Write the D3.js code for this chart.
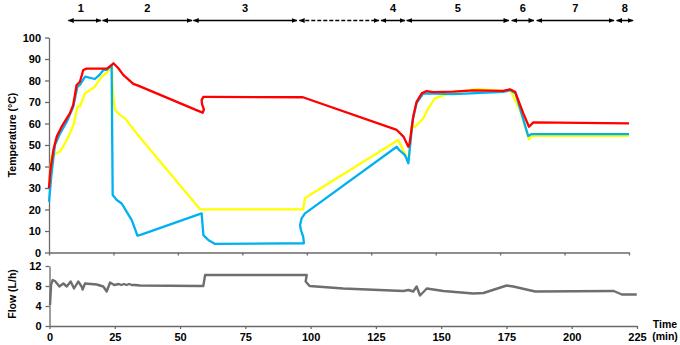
<!DOCTYPE html>
<html>
<head>
<meta charset="utf-8">
<script src="https://cdn.jsdelivr.net/npm/d3@7"></script>
<style>
  body { margin: 0; background: #fff; }
  svg { display: block; font-family: "Liberation Sans", Arial, sans-serif; }
  .axis text { font-size: 11px; font-weight: bold; fill: #000; }
  .axis path, .axis line { stroke: #6a6a6a; stroke-width: 1.3px; }
</style>
</head>
<body>
<script>
// temperature series (time in min, temperature in °C)
var redTime = [0, 0.5, 1.7, 3.0, 4.9, 8.1, 9.4, 10.7, 12, 13.3, 14.6, 22.4, 23.6, 25, 26.9, 28.8, 32.7, 34.6, 58.6, 59.6, 60.1, 59.4, 59.2, 59.9, 61.2, 98.5, 134.9, 137.5, 139.4, 139.9, 141.3, 142.6, 144.6, 146.5, 149, 156.8, 164.6, 176.2, 178.8, 180.8, 184, 186.2, 187.9, 225];
var redTemp = [30, 38, 47.7, 53.9, 58.5, 64.7, 68.6, 77.9, 79.4, 84.9, 85.5, 85.5, 86.5, 88, 85.7, 82.6, 78.4, 77.6, 65.5, 65, 66.5, 68.9, 70.9, 72.4, 72.4, 72.2, 57, 53.9, 49.2, 50.8, 63.2, 70.1, 74, 75.1, 74.6, 74.8, 75.4, 75.2, 75.9, 74.8, 64.7, 58.5, 60.5, 60.1];

var yellowTime = [0, 1, 2.3, 4.3, 6.2, 8.1, 9.7, 11, 12, 14, 17.8, 20.4, 22.4, 23.7, 24.4, 24.7, 25.6, 27.5, 29.5, 34, 58.6, 98.6, 99.3, 101.2, 135.5, 137.4, 139.4, 140.7, 142, 145.2, 147.1, 149.7, 151.7, 156.8, 166.5, 176.2, 179, 182.7, 186.2, 187.2, 225];
var yellowTemp = [31, 44.6, 45.8, 47, 50.8, 55.4, 60.1, 67.8, 68, 74, 77.1, 81.8, 83.6, 85.2, 86, 75.6, 66.3, 64, 62.4, 55.4, 20.1, 20.1, 25.2, 26.7, 52.3, 47.7, 42.2, 58.5, 58.5, 62.4, 67, 71.7, 72.5, 74.6, 76, 75, 75.5, 66.3, 52.6, 54.2, 54.2];

var blueTime = [0, 1, 2.3, 4.3, 6.9, 9.4, 11, 12, 14, 17.8, 19.6, 21.1, 22.4, 24.3, 24.7, 26.3, 28.2, 30.1, 32.1, 33.4, 34.3, 35.5, 59.2, 59.9, 61.8, 64.4, 98.9, 98.6, 97.7, 97.4, 98, 99.3, 101.2, 134.9, 135.6, 138.1, 139.4, 141.1, 142.6, 145.2, 156.8, 176.2, 179, 181, 185.9, 187.2, 225];
var blueTemp = [23.6, 36.8, 50, 55.4, 60.8, 67.8, 77.1, 78, 81.8, 80.7, 82.6, 84.9, 84.9, 87.2, 26.7, 24.4, 22.8, 19, 15.1, 10.9, 7.8, 8.2, 18.2, 8.1, 5.8, 4, 4.3, 7.4, 10.5, 12.8, 15.9, 18.2, 19.8, 49.2, 48, 45.3, 41.5, 61.6, 69.5, 74, 73.7, 74.7, 75.5, 74, 54.2, 55.1, 55.1];

// flow series (L/h)
var flowTime = [0.2, 0.6, 1.2, 2.1, 3.8, 5.3, 6.6, 8.1, 9.4, 11, 12.3, 12.7, 13.6, 18.1, 20.6, 21.9, 23.2, 24.8, 26.5, 27.5, 28.5, 29.5, 30.5, 31.5, 32.7, 34.7, 57.6, 58.9, 59.6, 98.5, 98.1, 99.1, 99.6, 112.5, 135.5, 137.5, 139.3, 140.6, 141.9, 144.5, 150.8, 162.3, 166.2, 175.1, 177.6, 186, 216.1, 219.2, 224.9];
var flowValue = [4.2, 8.2, 9.2, 9, 7.9, 8.5, 7.9, 8.9, 7.5, 8.9, 7.9, 7.3, 8.5, 8.3, 7.9, 6.9, 8.7, 8.2, 8.4, 8.2, 8.4, 8.2, 8.4, 8.2, 8.2, 8.1, 8, 8, 10.2, 10.2, 8.9, 8.3, 8, 7.5, 7, 7.2, 6.9, 7.9, 6.1, 7.5, 7, 6.5, 6.6, 8.1, 7.9, 6.9, 7, 6.3, 6.3];

// process phases shown by the arrows on top
var phaseLabels = ["1", "2", "3", "", "4", "5", "6", "7", "8"];
var phaseStart = [7.5, 20.8, 56, 97.1, 128.8, 138.75, 179.5, 189.2, 220.2];
var phaseEnd = [20.2, 55.5, 96.2, 128, 138.1, 178.4, 188.1, 219.2, 226.6];
var phaseDashed = [false, false, false, true, false, false, false, false, false];

var tempTicks = d3.range(0, 101, 10);
var flowTicks = [0, 4, 8, 12];
var timeTicks = d3.range(0, 226, 25);

var width = 680, height = 345;

var svg = d3.select("body").append("svg")
  .attr("width", width)
  .attr("height", height);

var defs = svg.append("defs");
["arrowEnd", "arrowStart"].forEach(function (id, i) {
  defs.append("marker")
    .attr("id", id)
    .attr("viewBox", "0 0 10 10")
    .attr("refX", i == 0 ? 9 : 1)
    .attr("refY", 5)
    .attr("markerWidth", 6)
    .attr("markerHeight", 6)
    .attr("markerUnits", "userSpaceOnUse")
    .attr("orient", "auto")
    .append("path")
    .attr("d", i == 0 ? "M0,1 L10,5 L0,9 Z" : "M10,1 L0,5 L10,9 Z")
    .attr("fill", "#000");
});

/* Scales */
var xTop = d3.scaleLinear().domain([0, 225]).range([49, 629]);
var yTop = d3.scaleLinear().domain([0, 100]).range([252.5, 37.5]);
var xBot = d3.scaleLinear().domain([0, 225]).range([49.5, 637]);
var yBot = d3.scaleLinear().domain([0, 12]).range([326, 266]);

/* Axes, top panel */
svg.append("g")
  .attr("class", "axis")
  .attr("transform", "translate(49,0)")
  .call(d3.axisLeft(yTop).tickValues(tempTicks).tickSize(4).tickSizeOuter(0).tickPadding(4));

svg.append("g")
  .attr("class", "axis")
  .attr("transform", "translate(0,252.5)")
  .call(d3.axisBottom(xTop).tickValues(timeTicks).tickSize(3).tickSizeOuter(0).tickFormat(""));

/* Axes, bottom panel */
svg.append("g")
  .attr("class", "axis")
  .attr("transform", "translate(49.5,0)")
  .call(d3.axisLeft(yBot).tickValues(flowTicks).tickSize(4).tickSizeOuter(0).tickPadding(4));

svg.append("g")
  .attr("class", "axis")
  .attr("transform", "translate(0,326)")
  .call(d3.axisBottom(xBot).tickValues(timeTicks).tickSize(3).tickSizeOuter(0).tickPadding(4));

/* Axis titles */
svg.append("text")
  .attr("transform", "translate(16,135) rotate(-90)")
  .attr("text-anchor", "middle")
  .style("font-size", "10.5px").style("font-weight", "bold")
  .text("Temperature (°C)");

svg.append("text")
  .attr("transform", "translate(16,294) rotate(-90)")
  .attr("text-anchor", "middle")
  .style("font-size", "10.5px").style("font-weight", "bold")
  .text("Flow (L/h)");

svg.append("text")
  .attr("x", 665).attr("y", 328)
  .attr("text-anchor", "middle")
  .style("font-size", "10.5px").style("font-weight", "bold")
  .text("Time");
svg.append("text")
  .attr("x", 665).attr("y", 340)
  .attr("text-anchor", "middle")
  .style("font-size", "10.5px").style("font-weight", "bold")
  .text("(min)");

/* Lines */
var tempLine = d3.line()
  .x(d => xTop(d[0]))
  .y(d => yTop(d[1]));

var series = [
  { time: yellowTime, temp: yellowTemp, color: "#ffff00" },
  { time: blueTime, temp: blueTemp, color: "#00b0f0" },
  { time: redTime, temp: redTemp, color: "#ff0000" }
];

svg.append("g").attr("class", "lines")
  .selectAll("path")
  .data(series).enter()
  .append("path")
  .attr("d", d => tempLine(d3.zip(d.time, d.temp)))
  .attr("fill", "none")
  .attr("stroke", d => d.color)
  .attr("stroke-width", 2.3)
  .attr("stroke-linejoin", "round");

var flowLine = d3.line()
  .x(d => xBot(d[0]))
  .y(d => yBot(d[1]));

svg.append("path")
  .attr("d", flowLine(d3.zip(flowTime, flowValue)))
  .attr("fill", "none")
  .attr("stroke", "#6e6e6e")
  .attr("stroke-width", 2.4)
  .attr("stroke-linejoin", "round");

/* Phase arrows */
var phases = phaseLabels.map(function (l, i) {
  return { label: l, start: phaseStart[i], end: phaseEnd[i], dashed: phaseDashed[i] };
});

var arrows = svg.append("g").attr("class", "phases");

arrows.selectAll("line")
  .data(phases).enter()
  .append("line")
  .attr("x1", d => xTop(d.start))
  .attr("x2", d => xTop(d.end))
  .attr("y1", 20.5)
  .attr("y2", 20.5)
  .attr("stroke", "#000")
  .attr("stroke-width", 1.5)
  .attr("stroke-dasharray", d => d.dashed ? "4,2" : null)
  .attr("marker-start", "url(#arrowStart)")
  .attr("marker-end", "url(#arrowEnd)");

arrows.selectAll("text")
  .data(phases).enter()
  .append("text")
  .attr("x", d => xTop((d.start + d.end) / 2) - (d.label == "1" ? 4 : 0))
  .attr("y", 12)
  .attr("text-anchor", "middle")
  .style("font-size", "11px").style("font-weight", "bold")
  .text(d => d.label);
</script>
</body>
</html>
